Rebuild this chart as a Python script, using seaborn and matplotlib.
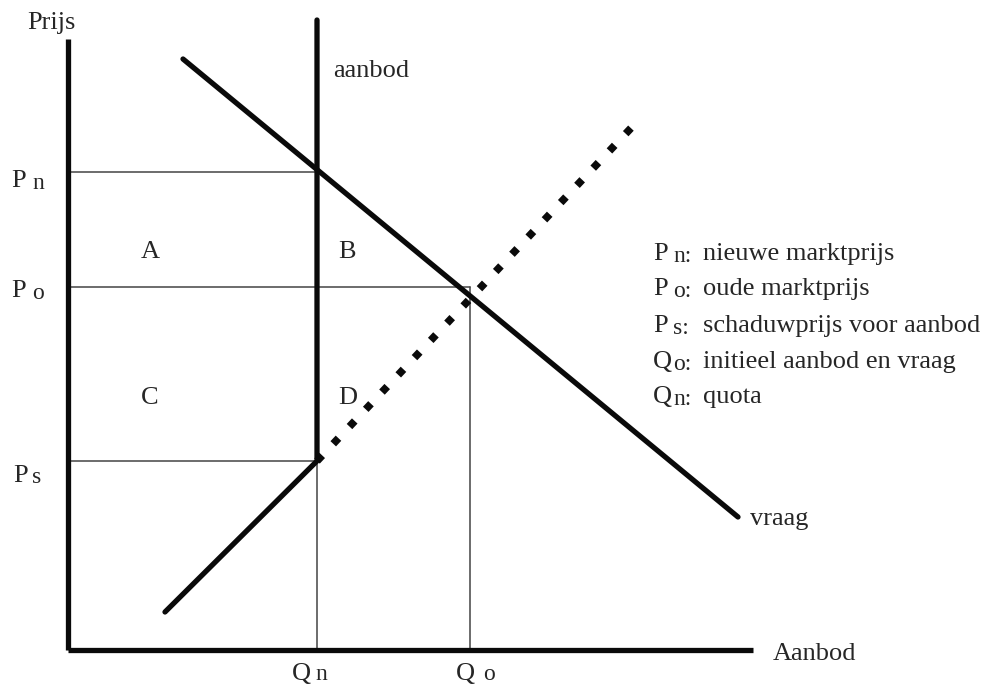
import matplotlib
matplotlib.use("Agg")
import matplotlib.pyplot as plt
import seaborn as sns

# quantities / prices in diagram units (origin = axis corner)
Qn, Qo = 249, 402
Pn, Po, Ps = 478, 363, 189
x_axis_end, y_axis_end = 685, 611

demand_q = [115, 670]
demand_p = [591, 133]
supply_q = [97, Qn, Qn]
supply_p = [38, Ps, 630]
shadow_q = [Qn, 564]
shadow_p = [Ps, 523]

area_labels = ["A", "B", "C", "D"]
area_q = [82, 279, 82, 280]
area_p = [398, 398, 252, 252]

legend_main = ["P", "P", "P", "Q", "Q"]
legend_sub = ["n:", "o:", "s:", "o:", "n:"]
legend_text = ["nieuwe marktprijs", "oude marktprijs", "schaduwprijs voor aanbod",
               "initieel aanbod en vraag", "quota"]
legend_y = [390, 355, 318, 282, 247]

sns.set_theme(style="white")
plt.rcParams["font.family"] = ["Liberation Serif", "DejaVu Serif"]

fig = plt.figure(figsize=(9.87, 6.93), dpi=100)
ax = fig.add_axes([0, 0, 1, 1])
ax.set_xlim(-68, 919)
ax.set_ylim(-43, 650)
ax.axis("off")

thick = 3.8
thin = 1.1
black = "#0a0a0a"
grey = "#444444"

# guide lines
ax.plot([0, Qn], [Pn, Pn], color=grey, lw=thin)
ax.plot([0, Qo], [Po, Po], color=grey, lw=thin)
ax.plot([0, Qn], [Ps, Ps], color=grey, lw=thin)
ax.plot([Qn, Qn], [0, Ps], color=grey, lw=thin)
ax.plot([Qo, Qo], [0, Po], color=grey, lw=thin)

# axes
ax.plot([0, 0], [0, y_axis_end], color=black, lw=thick, solid_capstyle="butt")
ax.plot([0, x_axis_end], [0, 0], color=black, lw=thick, solid_capstyle="butt")

# curves
sns.lineplot(x=demand_q, y=demand_p, ax=ax, color=black, lw=thick,
             sort=False, estimator=None)
sns.lineplot(x=supply_q, y=supply_p, ax=ax, color=black, lw=thick,
             sort=False, estimator=None)
# dotted part of the supply curve: square dashes look like diamonds on a 45 deg line
ax.plot(shadow_q, shadow_p, color=black, lw=5.5, linestyle=(0, (1, 2.1)),
        dash_capstyle="butt")

fs = 19
sub = 17
ax.text(-41, 621, "Prijs", fontsize=fs, ha="left", va="baseline")
ax.text(265, 573, "aanbod", fontsize=fs, ha="left", va="baseline")
ax.text(682, 125, "vraag", fontsize=fs, ha="left", va="baseline")
ax.text(705, -10, "Aanbod", fontsize=fs, ha="left", va="baseline")

# price labels on the vertical axis
ax.text(-57, Pn - 15, "P", fontsize=fs, ha="left", va="baseline")
ax.text(-36, Pn - 17, "n", fontsize=sub, ha="left", va="baseline")
ax.text(-57, Po - 10, "P", fontsize=fs, ha="left", va="baseline")
ax.text(-36, Po - 12, "o", fontsize=sub, ha="left", va="baseline")
ax.text(-55, Ps - 21, "P", fontsize=fs, ha="left", va="baseline")
ax.text(-36, Ps - 22, "s", fontsize=sub, ha="left", va="baseline")

# quantity labels on the horizontal axis
ax.text(Qn - 25, -30, "Q", fontsize=fs, ha="left", va="baseline")
ax.text(Qn - 2, -30, "n", fontsize=sub, ha="left", va="baseline")
ax.text(Qo - 14, -30, "Q", fontsize=fs, ha="left", va="baseline")
ax.text(Qo + 13, -30, "o", fontsize=sub, ha="left", va="baseline")

for lab, q, p in zip(area_labels, area_q, area_p):
    ax.text(q, p, lab, fontsize=fs, ha="center", va="center")

for m, s, t, y in zip(legend_main, legend_sub, legend_text, legend_y):
    ax.text(585, y, m, fontsize=fs, ha="left", va="baseline")
    ax.text(605, y - 2, s, fontsize=sub, ha="left", va="baseline")
    ax.text(635, y, t, fontsize=fs, ha="left", va="baseline")

fig.savefig("out.png", dpi=100, facecolor="white")
